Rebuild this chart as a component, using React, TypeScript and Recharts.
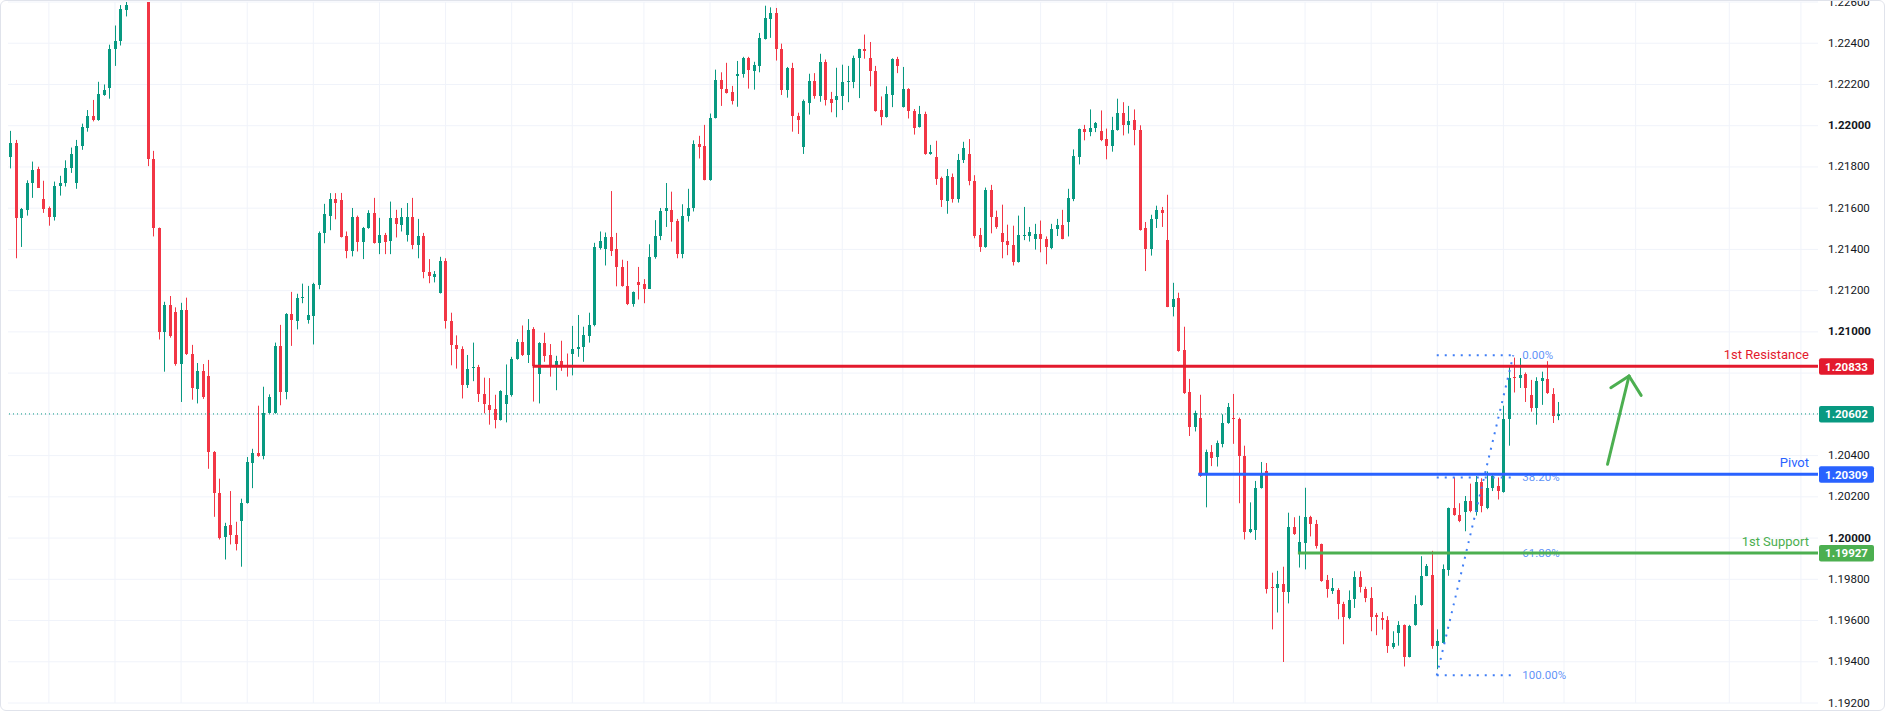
import React from 'react';
import { ComposedChart, Bar, XAxis, YAxis, CartesianGrid, ReferenceLine } from 'recharts';

// EUR/USD candles (one row = 10 bars)
const opens = [
  1.21848, 1.21918, 1.21551, 1.21590, 1.21720, 1.21790, 1.21645, 1.21601, 1.21557, 1.21707,
  1.21720, 1.21793, 1.21720, 1.21900, 1.21991, 1.22048, 1.22026, 1.22149, 1.22182, 1.22371,
  1.22409, 1.22563, 1.22630, 1.22700, 1.22800, 1.22880, 1.21839, 1.21504, 1.20998, 1.21130,
  1.21097, 1.20842, 1.21106, 1.20893, 1.20721, 1.20811, 1.20787, 1.20417, 1.20217, 1.20004,
  1.20063, 1.20015, 1.20081, 1.20169, 1.20363, 1.20413, 1.20396, 1.20605, 1.20605, 1.20932,
  1.20706, 1.21089, 1.21051, 1.21164, 1.21060, 1.21078, 1.21229, 1.21478, 1.21564, 1.21645,
  1.21641, 1.21467, 1.21390, 1.21557, 1.21438, 1.21502, 1.21577, 1.21430, 1.21471, 1.21443,
  1.21553, 1.21518, 1.21471, 1.21557, 1.21419, 1.21467, 1.21289, 1.21265, 1.21188, 1.21342,
  1.21051, 1.20935, 1.20915, 1.20741, 1.20825, 1.20831, 1.20697, 1.20644, 1.20624, 1.20572,
  1.20651, 1.20695, 1.20867, 1.20952, 1.20886, 1.21014, 1.20794, 1.20948, 1.20888, 1.20833,
  1.20858, 1.20840, 1.20895, 1.20919, 1.20926, 1.20979, 1.21031, 1.21405, 1.21401, 1.21458,
  1.21401, 1.21317, 1.21223, 1.21133, 1.21243, 1.21231, 1.21210, 1.21363, 1.21467, 1.21584,
  1.21592, 1.21540, 1.21379, 1.21560, 1.21603, 1.21911, 1.21903, 1.21738, 1.22037, 1.22222,
  1.22180, 1.22162, 1.22239, 1.22250, 1.22329, 1.22266, 1.22288, 1.22420, 1.22516, 1.22547,
  1.22371, 1.22175, 1.22281, 1.22046, 1.21896, 1.22112, 1.22217, 1.22145, 1.22310, 1.22131,
  1.22123, 1.22142, 1.22213, 1.22213, 1.22327, 1.22373, 1.22329, 1.22266, 1.22076, 1.22041,
  1.22151, 1.22325, 1.22090, 1.22180, 1.22070, 1.21993, 1.22059, 1.21861, 1.21850, 1.21744,
  1.21634, 1.21753, 1.21643, 1.21832, 1.21863, 1.21731, 1.21471, 1.21412, 1.21689, 1.21557,
  1.21480, 1.21443, 1.21423, 1.21338, 1.21467, 1.21467, 1.21449, 1.21476, 1.21451, 1.21408,
  1.21498, 1.21518, 1.21535, 1.21643, 1.21850, 1.21984, 1.21969, 1.21989, 1.21973, 1.21935,
  1.21900, 1.21978, 1.22063, 1.22002, 1.22028, 1.21980, 1.21504, 1.21401, 1.21546, 1.21592,
  1.21447, 1.21122, 1.21166, 1.20913, 1.20710, 1.20539, 1.20582, 1.20308, 1.20417, 1.20391,
  1.20455, 1.20556, 1.20582, 1.20578, 1.20398, 1.20030, 1.20037, 1.20242, 1.20323, 1.19764,
  1.19758, 1.19775, 1.19736, 1.20053, 1.19929, 1.19978, 1.20103, 1.20068, 1.19971, 1.19797,
  1.19744, 1.19750, 1.19682, 1.19613, 1.19702, 1.19813, 1.19753, 1.19711, 1.19626, 1.19612,
  1.19603, 1.19474, 1.19538, 1.19579, 1.19425, 1.19577, 1.19674, 1.19817, 1.19821, 1.19478,
  1.19492, 1.19846, 1.20147, 1.20112, 1.20125, 1.20180, 1.20125, 1.20272, 1.20147, 1.20244,
  1.20251, 1.20224, 1.20576, 1.20783, 1.20776, 1.20794, 1.20695, 1.20629, 1.20763, 1.20770,
  1.20701, 1.20591,
];

const highs = [
  1.21975, 1.21931, 1.21601, 1.21735, 1.21826, 1.21801, 1.21733, 1.21608, 1.21729, 1.21757,
  1.21832, 1.21894, 1.21931, 1.22010, 1.22076, 1.22125, 1.22213, 1.22200, 1.22393, 1.22486,
  1.22585, 1.22650, 1.22750, 1.22850, 1.22950, 1.22920, 1.21878, 1.21506, 1.21146, 1.21174,
  1.21119, 1.21141, 1.21166, 1.20937, 1.20849, 1.20844, 1.20864, 1.20422, 1.20288, 1.20074,
  1.20228, 1.20079, 1.20191, 1.20393, 1.20433, 1.20642, 1.20734, 1.20697, 1.20948, 1.21034,
  1.21091, 1.21194, 1.21185, 1.21234, 1.21223, 1.21238, 1.21487, 1.21621, 1.21673, 1.21673,
  1.21674, 1.21487, 1.21601, 1.21564, 1.21509, 1.21590, 1.21650, 1.21553, 1.21480, 1.21632,
  1.21592, 1.21601, 1.21625, 1.21650, 1.21548, 1.21480, 1.21353, 1.21295, 1.21364, 1.21357,
  1.21093, 1.20983, 1.20930, 1.20888, 1.20948, 1.20840, 1.20778, 1.20776, 1.20695, 1.20717,
  1.20842, 1.20879, 1.20965, 1.21031, 1.21062, 1.21023, 1.20950, 1.20996, 1.20941, 1.20884,
  1.20957, 1.20895, 1.21029, 1.21082, 1.21025, 1.21093, 1.21432, 1.21487, 1.21482, 1.21683,
  1.21480, 1.21350, 1.21344, 1.21196, 1.21315, 1.21256, 1.21425, 1.21542, 1.21601, 1.21722,
  1.21680, 1.21548, 1.21619, 1.21694, 1.21929, 1.21951, 1.22004, 1.22059, 1.22272, 1.22259,
  1.22305, 1.22193, 1.22314, 1.22334, 1.22334, 1.22310, 1.22450, 1.22582, 1.22574, 1.22571,
  1.22398, 1.22285, 1.22305, 1.22063, 1.22127, 1.22252, 1.22255, 1.22349, 1.22321, 1.22164,
  1.22281, 1.22296, 1.22290, 1.22340, 1.22373, 1.22442, 1.22406, 1.22290, 1.22142, 1.22191,
  1.22327, 1.22334, 1.22285, 1.22182, 1.22081, 1.22096, 1.22068, 1.21907, 1.21927, 1.21753,
  1.21790, 1.21768, 1.21863, 1.21922, 1.21935, 1.21760, 1.21504, 1.21700, 1.21713, 1.21588,
  1.21617, 1.21520, 1.21515, 1.21564, 1.21606, 1.21509, 1.21524, 1.21540, 1.21463, 1.21524,
  1.21548, 1.21592, 1.21694, 1.21885, 1.21986, 1.22004, 1.22079, 1.22018, 1.22074, 1.21986,
  1.22043, 1.22131, 1.22114, 1.22096, 1.22079, 1.22002, 1.21533, 1.21568, 1.21612, 1.21606,
  1.21665, 1.21238, 1.21190, 1.21025, 1.20772, 1.20618, 1.20695, 1.20429, 1.20451, 1.20473,
  1.20600, 1.20655, 1.20699, 1.20584, 1.20448, 1.20173, 1.20277, 1.20369, 1.20364, 1.19832,
  1.19841, 1.19861, 1.20123, 1.20101, 1.20108, 1.20244, 1.20108, 1.20088, 1.19973, 1.19821,
  1.19806, 1.19757, 1.19691, 1.19746, 1.19839, 1.19839, 1.19764, 1.19762, 1.19637, 1.19641,
  1.19621, 1.19548, 1.19597, 1.19581, 1.19579, 1.19722, 1.19912, 1.19874, 1.19938, 1.19557,
  1.19872, 1.20148, 1.20294, 1.20169, 1.20204, 1.20264, 1.20301, 1.20290, 1.20323, 1.20305,
  1.20294, 1.20642, 1.20838, 1.20875, 1.20873, 1.20803, 1.20767, 1.20780, 1.20807, 1.20858,
  1.20727, 1.20660,
];

const lows = [
  1.21793, 1.21357, 1.21412, 1.21564, 1.21650, 1.21698, 1.21577, 1.21515, 1.21540, 1.21661,
  1.21705, 1.21771, 1.21694, 1.21883, 1.21971, 1.22021, 1.22024, 1.22145, 1.22131, 1.22290,
  1.22389, 1.22530, 1.22620, 1.22650, 1.22750, 1.21804, 1.21463, 1.20963, 1.20807, 1.20972,
  1.20836, 1.20660, 1.20888, 1.20671, 1.20653, 1.20675, 1.20336, 1.20103, 1.19993, 1.19896,
  1.19969, 1.19940, 1.19861, 1.20167, 1.20242, 1.20394, 1.20382, 1.20603, 1.20603, 1.20644,
  1.20673, 1.20932, 1.21012, 1.21139, 1.21040, 1.20939, 1.21207, 1.21430, 1.21493, 1.21546,
  1.21458, 1.21357, 1.21366, 1.21390, 1.21353, 1.21500, 1.21428, 1.21377, 1.21377, 1.21377,
  1.21458, 1.21487, 1.21438, 1.21401, 1.21357, 1.21260, 1.21236, 1.21240, 1.21186, 1.21016,
  1.20838, 1.20822, 1.20677, 1.20728, 1.20761, 1.20660, 1.20605, 1.20550, 1.20532, 1.20570,
  1.20561, 1.20686, 1.20865, 1.20883, 1.20849, 1.20662, 1.20653, 1.20855, 1.20783, 1.20717,
  1.20811, 1.20783, 1.20789, 1.20879, 1.20855, 1.20948, 1.21027, 1.21399, 1.21322, 1.21368,
  1.21221, 1.21219, 1.21130, 1.21122, 1.21157, 1.21139, 1.21208, 1.21355, 1.21445, 1.21509,
  1.21438, 1.21357, 1.21357, 1.21535, 1.21584, 1.21841, 1.21735, 1.21733, 1.22035, 1.22096,
  1.22156, 1.22103, 1.22092, 1.22233, 1.22180, 1.22175, 1.22259, 1.22418, 1.22426, 1.22316,
  1.22149, 1.22136, 1.21971, 1.21960, 1.21863, 1.22054, 1.22131, 1.22116, 1.22098, 1.22065,
  1.22041, 1.22076, 1.22114, 1.22182, 1.22134, 1.22325, 1.22191, 1.22068, 1.22002, 1.22039,
  1.22090, 1.22255, 1.22088, 1.22035, 1.21957, 1.21991, 1.21859, 1.21859, 1.21713, 1.21606,
  1.21573, 1.21627, 1.21627, 1.21819, 1.21711, 1.21454, 1.21388, 1.21408, 1.21478, 1.21500,
  1.21357, 1.21372, 1.21322, 1.21336, 1.21445, 1.21438, 1.21399, 1.21386, 1.21328, 1.21401,
  1.21465, 1.21449, 1.21463, 1.21634, 1.21812, 1.21929, 1.21949, 1.21969, 1.21925, 1.21837,
  1.21874, 1.21976, 1.21953, 1.21962, 1.21905, 1.21491, 1.21295, 1.21370, 1.21504, 1.21509,
  1.21120, 1.21075, 1.20904, 1.20699, 1.20495, 1.20517, 1.20297, 1.20149, 1.20349, 1.20347,
  1.20440, 1.20554, 1.20457, 1.20169, 1.19993, 1.20024, 1.19991, 1.20240, 1.19731, 1.19557,
  1.19639, 1.19399, 1.19683, 1.20015, 1.19857, 1.19848, 1.20008, 1.19949, 1.19788, 1.19711,
  1.19729, 1.19606, 1.19485, 1.19606, 1.19661, 1.19736, 1.19689, 1.19548, 1.19529, 1.19556,
  1.19443, 1.19463, 1.19478, 1.19377, 1.19421, 1.19575, 1.19672, 1.19815, 1.19463, 1.19364,
  1.19490, 1.19817, 1.20108, 1.20077, 1.20033, 1.20125, 1.20109, 1.20125, 1.20140, 1.20228,
  1.20187, 1.20220, 1.20448, 1.20706, 1.20728, 1.20660, 1.20613, 1.20550, 1.20646, 1.20699,
  1.20558, 1.20572,
];

const closes = [
  1.21918, 1.21551, 1.21597, 1.21722, 1.21786, 1.21700, 1.21597, 1.21559, 1.21709, 1.21722,
  1.21797, 1.21863, 1.21903, 1.21995, 1.22048, 1.22026, 1.22153, 1.22175, 1.22373, 1.22413,
  1.22567, 1.22585, 1.22700, 1.22800, 1.22900, 1.21837, 1.21502, 1.20998, 1.21130, 1.20981,
  1.20844, 1.21106, 1.20891, 1.20726, 1.20811, 1.20684, 1.20415, 1.20217, 1.20000, 1.20059,
  1.20017, 1.19973, 1.20171, 1.20369, 1.20413, 1.20396, 1.20607, 1.20684, 1.20932, 1.20706,
  1.21089, 1.21056, 1.21166, 1.21170, 1.21082, 1.21234, 1.21482, 1.21573, 1.21645, 1.21623,
  1.21460, 1.21390, 1.21557, 1.21438, 1.21504, 1.21577, 1.21430, 1.21471, 1.21438, 1.21553,
  1.21522, 1.21557, 1.21557, 1.21419, 1.21467, 1.21289, 1.21269, 1.21280, 1.21342, 1.21051,
  1.20935, 1.20915, 1.20741, 1.20818, 1.20831, 1.20697, 1.20649, 1.20620, 1.20572, 1.20712,
  1.20695, 1.20869, 1.20952, 1.20886, 1.21009, 1.20836, 1.20948, 1.20882, 1.20829, 1.20858,
  1.20833, 1.20833, 1.20917, 1.20926, 1.20983, 1.21034, 1.21412, 1.21443, 1.21458, 1.21394,
  1.21317, 1.21221, 1.21133, 1.21192, 1.21229, 1.21210, 1.21361, 1.21467, 1.21588, 1.21603,
  1.21535, 1.21377, 1.21562, 1.21603, 1.21911, 1.21896, 1.21738, 1.22037, 1.22222, 1.22178,
  1.22160, 1.22118, 1.22250, 1.22329, 1.22268, 1.22296, 1.22426, 1.22523, 1.22547, 1.22371,
  1.22175, 1.22281, 1.22046, 1.22026, 1.22120, 1.22217, 1.22145, 1.22310, 1.22123, 1.22112,
  1.22145, 1.22213, 1.22217, 1.22329, 1.22373, 1.22360, 1.22263, 1.22072, 1.22041, 1.22156,
  1.22325, 1.22290, 1.22180, 1.22070, 1.21991, 1.22059, 1.21863, 1.21874, 1.21740, 1.21639,
  1.21757, 1.21643, 1.21834, 1.21894, 1.21731, 1.21467, 1.21414, 1.21689, 1.21555, 1.21509,
  1.21438, 1.21419, 1.21340, 1.21471, 1.21471, 1.21485, 1.21476, 1.21449, 1.21410, 1.21500,
  1.21518, 1.21451, 1.21650, 1.21852, 1.21984, 1.21969, 1.21991, 1.22015, 1.21929, 1.21900,
  1.21980, 1.22063, 1.22002, 1.22024, 1.21978, 1.21496, 1.21401, 1.21548, 1.21592, 1.21579,
  1.21122, 1.21161, 1.20908, 1.20703, 1.20539, 1.20607, 1.20301, 1.20417, 1.20389, 1.20459,
  1.20558, 1.20635, 1.20578, 1.20396, 1.20028, 1.20044, 1.20244, 1.20310, 1.19753, 1.19760,
  1.19777, 1.19736, 1.20055, 1.20019, 1.19982, 1.20103, 1.20066, 1.19962, 1.19793, 1.19755,
  1.19757, 1.19678, 1.19615, 1.19700, 1.19813, 1.19764, 1.19711, 1.19619, 1.19615, 1.19601,
  1.19478, 1.19489, 1.19579, 1.19425, 1.19573, 1.19678, 1.19817, 1.19865, 1.19478, 1.19500,
  1.19850, 1.20147, 1.20112, 1.20081, 1.20180, 1.20129, 1.20272, 1.20154, 1.20244, 1.20301,
  1.20228, 1.20576, 1.20776, 1.20776, 1.20792, 1.20726, 1.20631, 1.20761, 1.20776, 1.20703,
  1.20591, 1.20602,
];

// price scale labels (1.20600 / 1.20800 sit under the price boxes)
const priceTicks = [
  1.226, 1.224, 1.222, 1.22, 1.218, 1.216, 1.214, 1.212, 1.21,
  1.204, 1.202, 1.2, 1.198, 1.196, 1.194, 1.192,
];
const gridPrices = [
  1.226, 1.224, 1.222, 1.22, 1.218, 1.216, 1.214, 1.212, 1.21,
  1.208, 1.206, 1.204, 1.202, 1.2, 1.198, 1.196, 1.194, 1.192,
];
// bar numbers where the time grid lines fall
const timeGrid = [7, 19, 31, 43, 55, 67, 79, 91, 102, 115, 127, 139, 151, 162, 175, 187, 199, 211, 222, 235, 247, 259, 271, 282, 295, 312, 325];

const levelNames = ['1st Resistance', 'Pivot', '1st Support'];
const levelPrices = [1.20833, 1.20309, 1.19927];
const levelStartBar = [94.8, 215.6, 233.7];

const fibLabels = ['0.00%', '38.20%', '61.80%', '100.00%'];
const fibPrices = [1.20887, 1.20294, 1.19927, 1.19334];
const fibStartBar = 258.9;
const fibEndBar = 272.8;

const arrowTail = { bar: 289.9, price: 1.20358 };
const arrowTip = { bar: 293.8, price: 1.20786 };
const arrowLeft = { bar: 290.5, price: 1.20729 };
const arrowRight = { bar: 296.0, price: 1.20692 };

const lastPrice = closes[closes.length - 1];

const X_DOMAIN = [-0.42, 328.1];
const UP = '#089981';
const DOWN = '#f23645';
const levelColors = ['#e31a2d', '#2962ff', '#4caf50'];
const FIB = '#3f7ef6';
const FONT = "Roboto, 'Liberation Sans', Arial, sans-serif";

const candles = opens.map((o, i) => ({ i, open: o, high: highs[i], low: lows[i], close: closes[i] }));

const Candle = (props: any) => {
  const { x, y, width, height, payload } = props;
  if (!payload || height == null || !isFinite(y)) return null;
  const { open, close, high, low } = payload;
  const k = height / (high - low);
  const py = (v: number) => y + (high - v) * k;
  const color = close >= open ? UP : DOWN;
  const cx = Math.round(x + width / 2);
  const top = Math.round(py(Math.max(open, close)));
  const bot = Math.round(py(Math.min(open, close)));
  return (
    <g>
      <line x1={cx + 0.5} x2={cx + 0.5} y1={y} y2={y + height} stroke={color} strokeWidth={1} />
      <rect x={cx - 1} y={top} width={3} height={Math.max(bot - top, 1)} fill={color} />
    </g>
  );
};

const PriceTick = (props: any) => {
  const { x, y, payload } = props;
  const v = payload.value;
  const bold = Math.abs(v * 100 - Math.round(v * 100)) < 1e-6;
  return (
    <text x={x + 10} y={y + 3.5} fill="#131722" fontSize={11.5} fontWeight={bold ? 700 : 400} fontFamily={FONT}>
      {v.toFixed(5)}
    </text>
  );
};

const priceBox = (right: number, y: number, price: number, color: string) => (
  <g>
    <rect x={right + 1} y={y - 8} width={55} height={16.5} rx={2} fill={color} />
    <text x={right + 28.5} y={y + 4.2} textAnchor="middle" fill="#ffffff" fontSize={11.5} fontWeight={700} fontFamily={FONT}>
      {price.toFixed(5)}
    </text>
  </g>
);

const levelLabel = (name: string, price: number, color: string) => (props: any) => {
  const vb = props.viewBox || {};
  const right = vb.x + vb.width;
  const y = vb.y;
  return (
    <g>
      <text x={right - 9} y={y - 7} textAnchor="end" fill={color} fontSize={13} fontFamily={FONT}>{name}</text>
      {priceBox(right, y, price, color)}
    </g>
  );
};

const lastLabel = (props: any) => {
  const vb = props.viewBox || {};
  return priceBox(vb.x + vb.width, vb.y, lastPrice, UP);
};

const fibLabel = (text: string) => (props: any) => {
  const vb = props.viewBox || {};
  return (
    <text x={vb.x + vb.width + 9} y={vb.y + 4} fill={FIB} fillOpacity={0.85} fontSize={11.5} fontFamily={FONT}>{text}</text>
  );
};

export default function App() {
  return (
    <div style={{ position: 'absolute', left: 0, top: 0, width: 1885, height: 711, background: '#ffffff', overflow: 'hidden' }}>
      <ComposedChart width={1885} height={711} data={candles} margin={{ top: 2, right: 0, bottom: 8, left: 8 }}>
        <CartesianGrid stroke="#f0f3fa" horizontalValues={gridPrices} verticalValues={timeGrid} />
        <XAxis type="number" dataKey="i" domain={X_DOMAIN} allowDataOverflow hide />
        <YAxis
          orientation="right"
          type="number"
          width={67}
          domain={[1.192, 1.226]}
          allowDataOverflow
          ticks={priceTicks}
          interval={0}
          axisLine={false}
          tickLine={false}
          tickSize={0}
          tickMargin={0}
          tick={(p: any) => <PriceTick {...p} />}
        />
        <Bar
          dataKey={(d: any) => [d.low, d.high]}
          barSize={3}
          isAnimationActive={false}
          shape={(p: any) => <Candle {...p} />}
        />

        <ReferenceLine y={lastPrice} stroke={UP} strokeWidth={1} strokeDasharray="1 3" label={lastLabel} />

        {fibPrices.map((p, k) => (
          <ReferenceLine
            key={`fib-${k}`}
            segment={[{ x: fibStartBar, y: p }, { x: fibEndBar, y: p }]}
            stroke={FIB}
            strokeWidth={2}
            strokeDasharray="2 6"
            label={fibLabel(fibLabels[k])}
          />
        ))}
        <ReferenceLine
          segment={[{ x: fibStartBar, y: fibPrices[3] }, { x: fibEndBar, y: fibPrices[0] }]}
          stroke={FIB}
          strokeWidth={2}
          strokeDasharray="2 6"
        />

        {levelPrices.map((p, k) => (
          <ReferenceLine
            key={`lvl-${k}`}
            segment={[{ x: levelStartBar[k], y: p }, { x: X_DOMAIN[1], y: p }]}
            stroke={levelColors[k]}
            strokeWidth={3}
            label={levelLabel(levelNames[k], p, levelColors[k])}
          />
        ))}

        <ReferenceLine
          segment={[{ x: arrowTail.bar, y: arrowTail.price }, { x: arrowTip.bar, y: arrowTip.price }]}
          stroke="#4caf50"
          strokeWidth={3}
          strokeLinecap="round"
        />
        <ReferenceLine
          segment={[{ x: arrowLeft.bar, y: arrowLeft.price }, { x: arrowTip.bar, y: arrowTip.price }]}
          stroke="#4caf50"
          strokeWidth={3}
          strokeLinecap="round"
        />
        <ReferenceLine
          segment={[{ x: arrowTip.bar, y: arrowTip.price }, { x: arrowRight.bar, y: arrowRight.price }]}
          stroke="#4caf50"
          strokeWidth={3}
          strokeLinecap="round"
        />
      </ComposedChart>
      <div style={{ position: 'absolute', inset: 0, border: '1px solid #e0e3eb', borderRadius: 6, pointerEvents: 'none' }} />
    </div>
  );
}
